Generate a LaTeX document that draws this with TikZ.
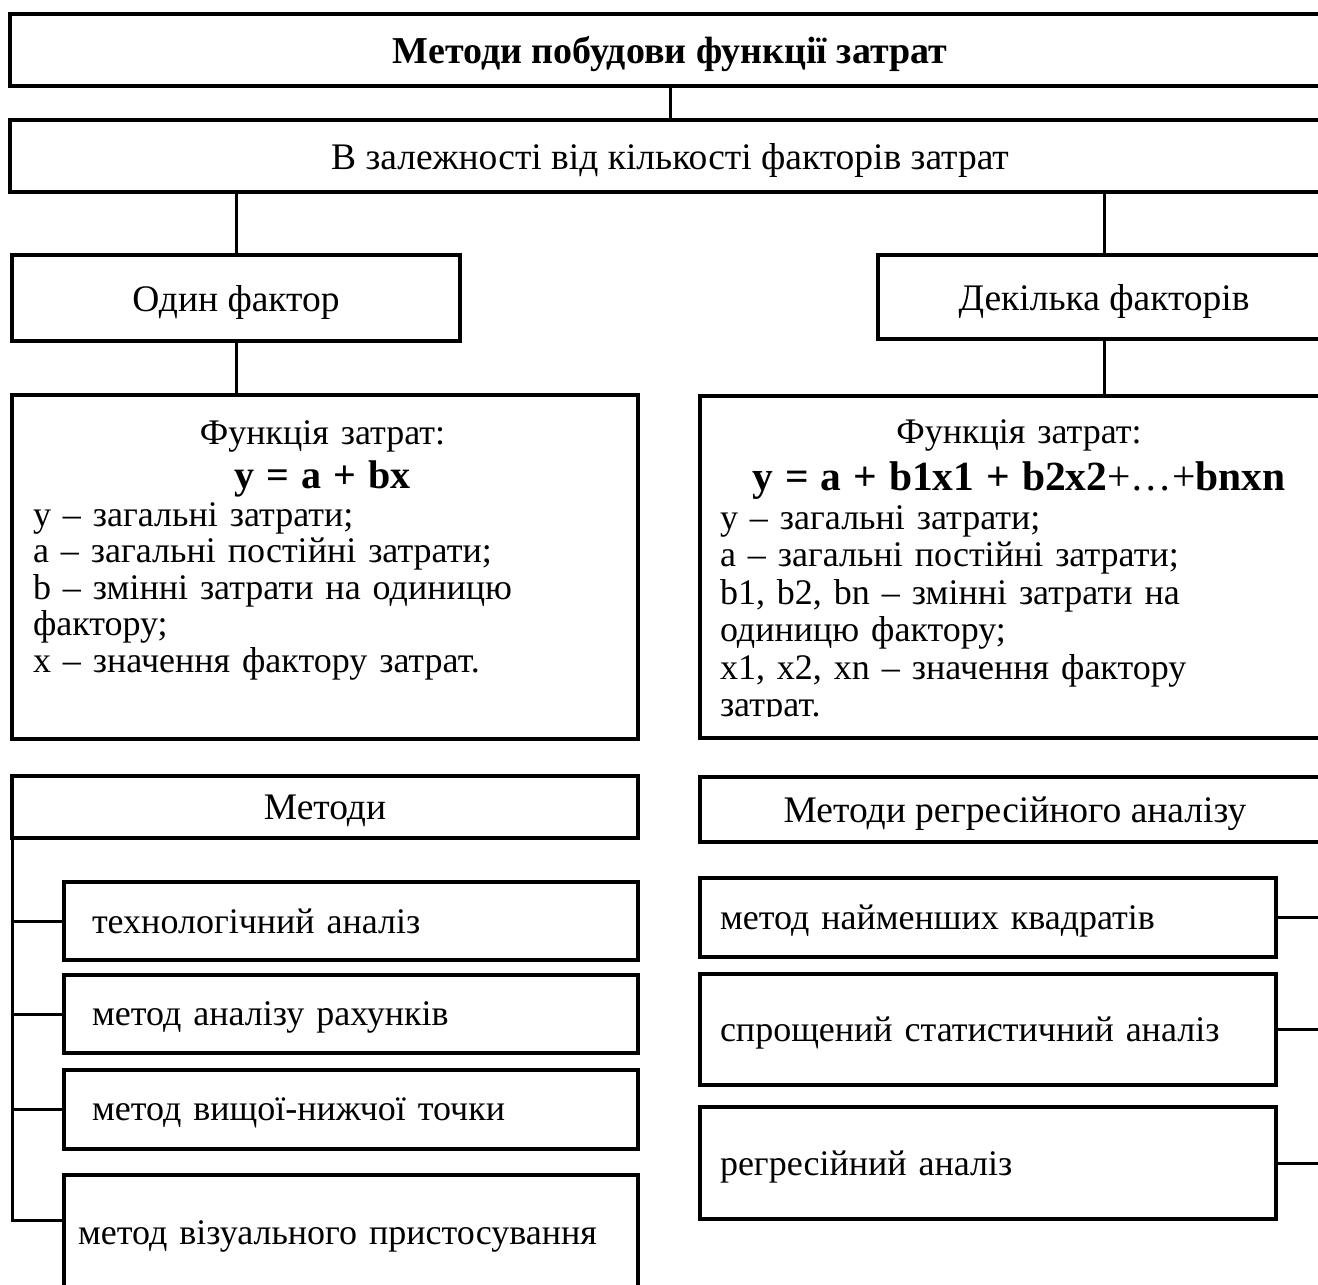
\documentclass[tikz,border=0pt]{standalone}
\usepackage{fontspec}
\setmainfont{Liberation Serif}
\usetikzlibrary{positioning}
\newcommand{\bodyfont}{\fontsize{36}{36.5}\selectfont}
\newcommand{\headfont}{\fontsize{37.5}{40}\selectfont}
\newcommand{\formfont}{\fontsize{40}{44}\selectfont}
\newcommand{\wideform}{\fontsize{41.5}{44}\selectfont}
\tikzset{
  box/.style={draw, line width=3.5pt, outer sep=0pt, inner sep=0pt, anchor=north west, align=center, text depth=0pt, font=\headfont},
  leftitem/.style={box, align=left, inner xsep=28pt, text width=518pt, minimum width=574pt, font=\bodyfont},
  rightitem/.style={box, align=left, inner xsep=20pt, text width=536pt, minimum width=576pt, font=\bodyfont},
  txt/.style={inner sep=0pt, outer sep=0pt, anchor=north west, align=left, font=\bodyfont},
  link/.style={line width=3pt}
}

\begin{document}
\begin{tikzpicture}[x=1pt, y=-1pt]
    \clip (0,0) rectangle (1318,1285);
    \node[box, minimum width=1320pt, minimum height=72pt, font=\fontsize{38}{40}\selectfont\bfseries] (title) at (10,14) {Методи побудови функції затрат};
    \node[box, minimum width=1320pt, minimum height=72pt] (dep) at (10,120) {В залежності від кількості факторів затрат};
    \node[box, minimum width=448pt, minimum height=86pt] (one) at (12,255) {Один фактор};
    \node[box, minimum width=452pt, minimum height=84pt] (many) at (878,255) {Декілька факторів};
    \node[box, minimum width=626pt, minimum height=344pt] (f1) at (12,395) {};
    \node[box, minimum width=640pt, minimum height=342pt] (f2) at (700,396) {};
    \node[txt, text width=579pt] (f1txt) at ([xshift=21pt, yshift=-26pt]f1.north west) {%
      \makebox[\linewidth]{Функція затрат:}\\[7pt]
      \makebox[\linewidth]{\formfont\bfseries y = a + bx}\\[1.5pt]
      y – загальні затрати;\\
      a – загальні постійні затрати;\\
      b – змінні затрати на одиницю\\
      фактору;\\
      x – значення фактору затрат.};
    \begin{scope}
      \clip (f2.north west) rectangle ([yshift=22pt]f2.south east);
      \node[txt, text width=598pt] (f2txt) at ([xshift=20pt, yshift=-24pt]f2.north west) {%
        \makebox[\linewidth]{Функція затрат:}\\[9pt]
        \makebox[\linewidth]{\wideform\textbf{y = a + b1x1 + b2x2}+…+\textbf{bnxn}}\\[2.5pt]
        y – загальні затрати;\\[1pt]
        a – загальні постійні затрати;\\[1pt]
        b1, b2, bn – змінні затрати на\\[1pt]
        одиницю фактору;\\[1pt]
        x1, x2, xn – значення фактору\\[1pt]
        затрат.};
    \end{scope}
    \node[box, minimum width=626pt, minimum height=62pt] (m1) at (12,776) {Методи};
    \node[box, minimum width=630pt, minimum height=65pt] (m2) at (700,777) {Методи регресійного аналізу};
    % left methods
    \node[leftitem, minimum height=78pt] (a1) at (64,882) {технологічний аналіз};
    \node[leftitem, minimum height=78pt, below=15pt of a1.south west, anchor=north west] (a2) {метод аналізу рахунків};
    \node[leftitem, minimum height=79pt, below=17pt of a2.south west, anchor=north west] (a3) {метод вищої-нижчої точки};
    \node[leftitem, minimum height=115pt, below=26pt of a3.south west, anchor=north west, inner xsep=14pt, text width=546pt] (a4) {метод візуального пристосування};
    % right methods
    \node[rightitem, minimum height=79pt] (r1) at (700,878) {метод найменших квадратів};
    \node[rightitem, minimum height=111pt, below=17pt of r1.south west, anchor=north west] (r2) {спрощений статистичний аналіз};
    \node[rightitem, minimum height=112pt, below=22pt of r2.south west, anchor=north west] (r3) {регресійний аналіз};
    \coordinate (a4tap) at (64,1220);
    \coordinate (rbus) at (1330,842);
    % links
    \draw[link] (title) -- (dep);
    \draw[link] (one.north) -- (one.north |- dep.south);
    \draw[link] (many.north) -- (many.north |- dep.south);
    \draw[link] (one.south) -- (one.south |- f1.north);
    \draw[link] (many.south) -- (many.south |- f2.north);
    \draw[link] (m1.south west) |- (a4tap);
    \foreach \b in {a1,a2,a3}
      \draw[link] (m1.south west |- \b.west) -- (\b.west);
    \foreach \b in {r1,r2,r3}
      \draw[link] (\b.east) -- (\b.east -| rbus);
\end{tikzpicture}
\end{document}
